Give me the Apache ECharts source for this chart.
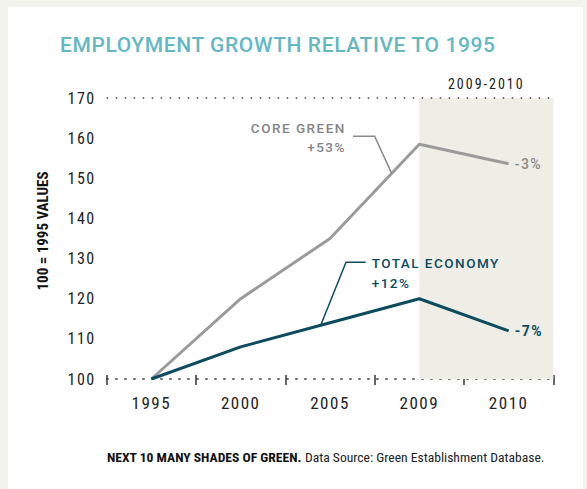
<!DOCTYPE html>
<html>
<head>
<meta charset="utf-8">
<script src="https://cdn.jsdelivr.net/npm/echarts@6/dist/echarts.min.js"></script>
<style>
  html, body { margin: 0; padding: 0; background: #f3f3ee; }
  #card { position: absolute; left: 8px; top: 7px; width: 575px; height: 482px; background: #ffffff; }
  #chart { position: absolute; left: 0; top: 0; width: 587px; height: 489px; }
  /* tracking for the display typefaces (keyed on their fallback family) */
  #chart text[style*="Lato"] { letter-spacing: 0.6px; }
  #chart text[style*="Inter"] { letter-spacing: 1.5px; }
  #chart text[style*="Open Sans"] { letter-spacing: 2px; }
</style>
</head>
<body>
<div id="card"></div>
<div id="chart"></div>
<script>
// Employment index, 1995 = 100
const years = ['1995', '2000', '2005', '2009', '2010'];
const coreGreen = [100, 120, 135, 158.5, 153.6];
const totalEconomy = [100, 108, 114, 120, 112];

// Value axis range for the index
const yMin = 100;
const yMax = 170;
const yStep = 10;

// Text labels
const coreName = 'CORE GREEN';
const coreGrowth = '+53%';
const coreRecent = '-3%';
const totalName = 'TOTAL ECONOMY';
const totalGrowth = '+12%';
const totalRecent = '-7%';
const recessionLabel = '2009-2010';
const recessionStart = '2009';

const GRAY = '#9b9b9b';
const TEAL = '#0d4b5f';
const TITLE_FONT = 'Roboto, Lato, sans-serif';
const AXIS_FONT = '"Roboto Condensed", Inter, sans-serif';
const WIDE_FONT = '"Roboto Condensed", "Open Sans", sans-serif';
const LABEL_FONT = 'Roboto, Inter, sans-serif';
const FOOT_FONT = '"Roboto Condensed", sans-serif';

const chart = echarts.init(document.getElementById('chart'), null, { renderer: 'svg' });

const grid = { left: 106.7, right: 33.7, top: 98, bottom: 110 };

chart.setOption({
  animation: false,
  backgroundColor: 'transparent',
  title: [
    {
      text: 'EMPLOYMENT GROWTH RELATIVE TO 1995',
      left: 60, top: 34, padding: 0,
      textStyle: { color: '#63b8c3', fontSize: 21, fontWeight: 500, fontFamily: TITLE_FONT }
    },
    {
      text: '{b|NEXT 10 MANY SHADES OF GREEN.} Data Source: Green Establishment Database.',
      left: 107, top: 450, padding: 0,
      textStyle: {
        color: '#222', fontSize: 13.6, fontWeight: 'normal', fontFamily: FOOT_FONT,
        rich: { b: { fontWeight: 'bold', fontSize: 13.6, color: '#111', fontFamily: FOOT_FONT } }
      }
    }
  ],
  grid: grid,
  xAxis: [
    {
      type: 'category',
      data: years,
      boundaryGap: true,
      axisLine: { show: true, lineStyle: { color: '#444', width: 1.5, type: [1.5, 7.5] } },
      axisTick: { show: true, length: 6, lineStyle: { color: '#333', width: 1.5 } },
      axisLabel: { color: '#222', fontSize: 17, fontFamily: AXIS_FONT, margin: 15 },
      splitLine: { show: false }
    },
    {
      // positional helper axis spanning the category bands (0..n)
      type: 'value',
      position: 'bottom',
      min: 0, max: years.length, interval: 1,
      axisLine: { show: false },
      axisTick: { show: true, inside: true, length: 4, lineStyle: { color: '#333', width: 1.5 } },
      axisLabel: { show: false },
      splitLine: { show: false }
    }
  ],
  yAxis: {
    type: 'value',
    min: yMin, max: yMax, interval: yStep,
    axisLine: { show: false },
    axisTick: { show: false },
    splitLine: { show: false },
    axisLabel: { color: '#222', fontSize: 16, fontFamily: AXIS_FONT, margin: 11 }
  },
  series: [
    {
      name: 'shade',
      type: 'line',
      xAxisIndex: 1,
      data: [],
      silent: true,
      markArea: {
        silent: true,
        itemStyle: { color: '#eeede6' },
        label: {
          show: true, position: 'top', distance: 7,
          color: '#222', fontSize: 14, fontFamily: WIDE_FONT
        },
        data: [[
          { name: recessionLabel, xAxis: years.indexOf(recessionStart) + 0.5, yAxis: yMax },
          { xAxis: years.length, yAxis: yMin }
        ]]
      },
      markLine: {
        silent: true,
        symbol: 'none',
        label: { show: false },
        lineStyle: { color: '#444', width: 1.5, type: [1.5, 7.5] },
        data: [{ yAxis: yMax }]
      }
    },
    {
      name: coreName,
      type: 'line',
      data: coreGreen,
      symbol: 'none',
      lineStyle: { color: GRAY, width: 3 },
      z: 3,
      endLabel: {
        show: true, distance: 6, formatter: coreRecent,
        color: '#8a8a8a', fontSize: 14, fontWeight: 500, fontFamily: LABEL_FONT
      }
    },
    {
      name: totalName,
      type: 'line',
      data: totalEconomy,
      symbol: 'none',
      lineStyle: { color: TEAL, width: 3 },
      z: 4,
      endLabel: {
        show: true, distance: 6, formatter: totalRecent,
        color: TEAL, fontSize: 14, fontWeight: 'bold', fontFamily: LABEL_FONT
      }
    }
  ]
});

// Leader lines for the series call-outs, placed in data space on the band axis
function px(x, y) { return chart.convertToPixel({ xAxisIndex: 1, yAxisIndex: 0 }, [x, y]); }
function onSeg(values, i, t) { return [i + 0.5 + t, values[i] + t * (values[i + 1] - values[i])]; }

const coreAnchor = onSeg(coreGreen, 2, 0.69);
const coreElbow = px(3.0, 160.5);
const coreStart = px(2.757, 160.5);
const coreHit = px(coreAnchor[0], coreAnchor[1]);

const totAnchor = onSeg(totalEconomy, 1, 0.896);
const totElbow = px(2.679, 129.1);
const totEnd = px(2.899, 129.1);
const totHit = px(totAnchor[0], totAnchor[1]);

chart.setOption({
  graphic: [
    {
      type: 'polyline', z: 10, silent: true,
      shape: { points: [coreStart, coreElbow, coreHit] },
      style: { stroke: '#8a8a8a', lineWidth: 1.5, fill: null }
    },
    {
      type: 'text', z: 10, silent: true,
      x: coreStart[0] - 7, y: coreStart[1] + 1,
      style: {
        text: coreName + '\n' + coreGrowth, align: 'right', verticalAlign: 'middle',
        fill: '#858585', fontSize: 13.5, fontWeight: 500, fontFamily: LABEL_FONT, lineHeight: 19
      }
    },
    {
      type: 'polyline', z: 10, silent: true,
      shape: { points: [totEnd, totElbow, totHit] },
      style: { stroke: TEAL, lineWidth: 1.5, fill: null }
    },
    {
      type: 'text', z: 10, silent: true,
      x: totEnd[0] + 6, y: totEnd[1] - 9,
      style: {
        text: totalName + '\n' + totalGrowth, align: 'left', verticalAlign: 'top',
        fill: TEAL, fontSize: 13.5, fontWeight: 500, fontFamily: LABEL_FONT, lineHeight: 20
      }
    },
    {
      type: 'text', z: 10, silent: true,
      x: 43, y: 231, rotation: Math.PI / 2,
      style: {
        text: '100 = 1995 VALUES', align: 'center', verticalAlign: 'middle',
        fill: '#111', fontSize: 15, fontWeight: 'bold', fontFamily: FOOT_FONT
      }
    }
  ]
});
</script>
</body>
</html>
